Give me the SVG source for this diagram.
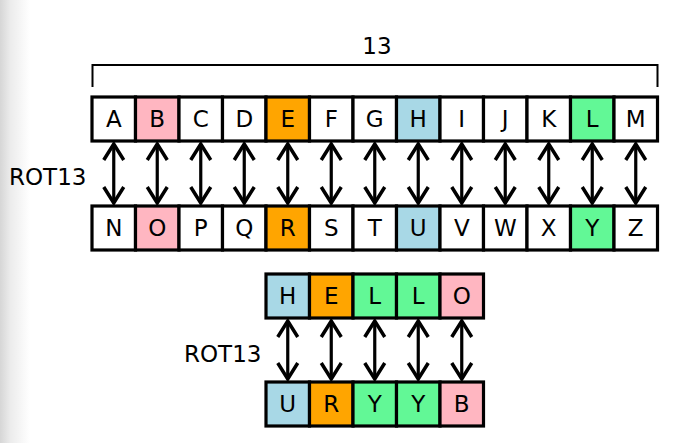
<svg xmlns="http://www.w3.org/2000/svg" width="677" height="443" viewBox="0 0 677 443">
<defs>
<linearGradient id="side" x1="0" y1="0" x2="1" y2="0">
<stop offset="0" stop-color="#d6d6d6"/>
<stop offset="0.35" stop-color="#ececec"/>
<stop offset="1" stop-color="#ffffff"/>
</linearGradient>
<marker id="ah" viewBox="0 0 20 24" refX="18" refY="12" markerWidth="20" markerHeight="24" markerUnits="userSpaceOnUse" orient="auto-start-reverse">
<path d="M2,2 L18,12 L2,22" fill="none" stroke="#000" stroke-width="3.5"/>
</marker>
<style>
.b{stroke:#000;stroke-width:3.2;fill:#fff}
.pk{fill:#ffb6c1}
.or{fill:#ffa500}
.bl{fill:#a8d8e6}
.gr{fill:#62f896}
.t{font-family:"DejaVu Sans",Verdana,sans-serif;font-size:23px;fill:#000;text-anchor:middle}
.lbl{font-family:"DejaVu Sans",Verdana,sans-serif;font-size:23px;fill:#000}
.a{stroke:#000;stroke-width:3.2;fill:none;marker-start:url(#ah);marker-end:url(#ah)}
</style>
</defs>
<rect x="0" y="0" width="677" height="443" fill="#fff"/>
<rect x="0" y="0" width="30" height="443" fill="url(#side)"/>

<g id="bracket">
<path d="M92.5,87 V65 H657.5 V87" fill="none" stroke="#000" stroke-width="2"/>
<text class="t" x="377" y="54">13</text>
</g>

<text class="lbl" x="9" y="185">ROT13</text>
<text class="lbl" x="184" y="362">ROT13</text>

<g id="row-top">
<g id="A"><rect class="b" x="92" y="97" width="43.5" height="44"/><text class="t" x="113.75" y="127">A</text></g>
<g id="B"><rect class="b pk" x="135.5" y="97" width="43.5" height="44"/><text class="t" x="157.25" y="127">B</text></g>
<g id="C"><rect class="b" x="179" y="97" width="43.5" height="44"/><text class="t" x="200.75" y="127">C</text></g>
<g id="D"><rect class="b" x="222.5" y="97" width="43.5" height="44"/><text class="t" x="244.25" y="127">D</text></g>
<g id="E"><rect class="b or" x="266" y="97" width="43.5" height="44"/><text class="t" x="287.75" y="127">E</text></g>
<g id="F"><rect class="b" x="309.5" y="97" width="43.5" height="44"/><text class="t" x="331.25" y="127">F</text></g>
<g id="G"><rect class="b" x="353" y="97" width="43.5" height="44"/><text class="t" x="374.75" y="127">G</text></g>
<g id="H"><rect class="b bl" x="396.5" y="97" width="43.5" height="44"/><text class="t" x="418.25" y="127">H</text></g>
<g id="I"><rect class="b" x="440" y="97" width="43.5" height="44"/><text class="t" x="461.75" y="127">I</text></g>
<g id="J"><rect class="b" x="483.5" y="97" width="43.5" height="44"/><text class="t" x="505.25" y="127">J</text></g>
<g id="K"><rect class="b" x="527" y="97" width="43.5" height="44"/><text class="t" x="548.75" y="127">K</text></g>
<g id="L"><rect class="b gr" x="570.5" y="97" width="43.5" height="44"/><text class="t" x="592.25" y="127">L</text></g>
<g id="M"><rect class="b" x="614" y="97" width="43.5" height="44"/><text class="t" x="635.75" y="127">M</text></g>
</g>

<g id="row-bottom">
<g id="N"><rect class="b" x="92" y="206" width="43.5" height="44"/><text class="t" x="113.75" y="236">N</text></g>
<g id="O"><rect class="b pk" x="135.5" y="206" width="43.5" height="44"/><text class="t" x="157.25" y="236">O</text></g>
<g id="P"><rect class="b" x="179" y="206" width="43.5" height="44"/><text class="t" x="200.75" y="236">P</text></g>
<g id="Q"><rect class="b" x="222.5" y="206" width="43.5" height="44"/><text class="t" x="244.25" y="236">Q</text></g>
<g id="R"><rect class="b or" x="266" y="206" width="43.5" height="44"/><text class="t" x="287.75" y="236">R</text></g>
<g id="S"><rect class="b" x="309.5" y="206" width="43.5" height="44"/><text class="t" x="331.25" y="236">S</text></g>
<g id="T"><rect class="b" x="353" y="206" width="43.5" height="44"/><text class="t" x="374.75" y="236">T</text></g>
<g id="U"><rect class="b bl" x="396.5" y="206" width="43.5" height="44"/><text class="t" x="418.25" y="236">U</text></g>
<g id="V"><rect class="b" x="440" y="206" width="43.5" height="44"/><text class="t" x="461.75" y="236">V</text></g>
<g id="W"><rect class="b" x="483.5" y="206" width="43.5" height="44"/><text class="t" x="505.25" y="236">W</text></g>
<g id="X"><rect class="b" x="527" y="206" width="43.5" height="44"/><text class="t" x="548.75" y="236">X</text></g>
<g id="Y"><rect class="b gr" x="570.5" y="206" width="43.5" height="44"/><text class="t" x="592.25" y="236">Y</text></g>
<g id="Z"><rect class="b" x="614" y="206" width="43.5" height="44"/><text class="t" x="635.75" y="236">Z</text></g>
</g>

<g id="hello">
<g id="h1"><rect class="b bl" x="266" y="274" width="43.5" height="44"/><text class="t" x="287.75" y="304">H</text></g>
<g id="h2"><rect class="b or" x="309.5" y="274" width="43.5" height="44"/><text class="t" x="331.25" y="304">E</text></g>
<g id="h3"><rect class="b gr" x="353" y="274" width="43.5" height="44"/><text class="t" x="374.75" y="304">L</text></g>
<g id="h4"><rect class="b gr" x="396.5" y="274" width="43.5" height="44"/><text class="t" x="418.25" y="304">L</text></g>
<g id="h5"><rect class="b pk" x="440" y="274" width="43.5" height="44"/><text class="t" x="461.75" y="304">O</text></g>
</g>

<g id="uryyb">
<g id="u1"><rect class="b bl" x="266" y="382" width="43.5" height="44"/><text class="t" x="287.75" y="412">U</text></g>
<g id="u2"><rect class="b or" x="309.5" y="382" width="43.5" height="44"/><text class="t" x="331.25" y="412">R</text></g>
<g id="u3"><rect class="b gr" x="353" y="382" width="43.5" height="44"/><text class="t" x="374.75" y="412">Y</text></g>
<g id="u4"><rect class="b gr" x="396.5" y="382" width="43.5" height="44"/><text class="t" x="418.25" y="412">Y</text></g>
<g id="u5"><rect class="b pk" x="440" y="382" width="43.5" height="44"/><text class="t" x="461.75" y="412">B</text></g>
</g>

<g id="connectors">
<line class="a" x1="113.75" y1="144" x2="113.75" y2="203"/>
<line class="a" x1="157.25" y1="144" x2="157.25" y2="203"/>
<line class="a" x1="200.75" y1="144" x2="200.75" y2="203"/>
<line class="a" x1="244.25" y1="144" x2="244.25" y2="203"/>
<line class="a" x1="287.75" y1="144" x2="287.75" y2="203"/>
<line class="a" x1="331.25" y1="144" x2="331.25" y2="203"/>
<line class="a" x1="374.75" y1="144" x2="374.75" y2="203"/>
<line class="a" x1="418.25" y1="144" x2="418.25" y2="203"/>
<line class="a" x1="461.75" y1="144" x2="461.75" y2="203"/>
<line class="a" x1="505.25" y1="144" x2="505.25" y2="203"/>
<line class="a" x1="548.75" y1="144" x2="548.75" y2="203"/>
<line class="a" x1="592.25" y1="144" x2="592.25" y2="203"/>
<line class="a" x1="635.75" y1="144" x2="635.75" y2="203"/>
<line class="a" x1="287.75" y1="321" x2="287.75" y2="379"/>
<line class="a" x1="331.25" y1="321" x2="331.25" y2="379"/>
<line class="a" x1="374.75" y1="321" x2="374.75" y2="379"/>
<line class="a" x1="418.25" y1="321" x2="418.25" y2="379"/>
<line class="a" x1="461.75" y1="321" x2="461.75" y2="379"/>
</g>
</svg>
